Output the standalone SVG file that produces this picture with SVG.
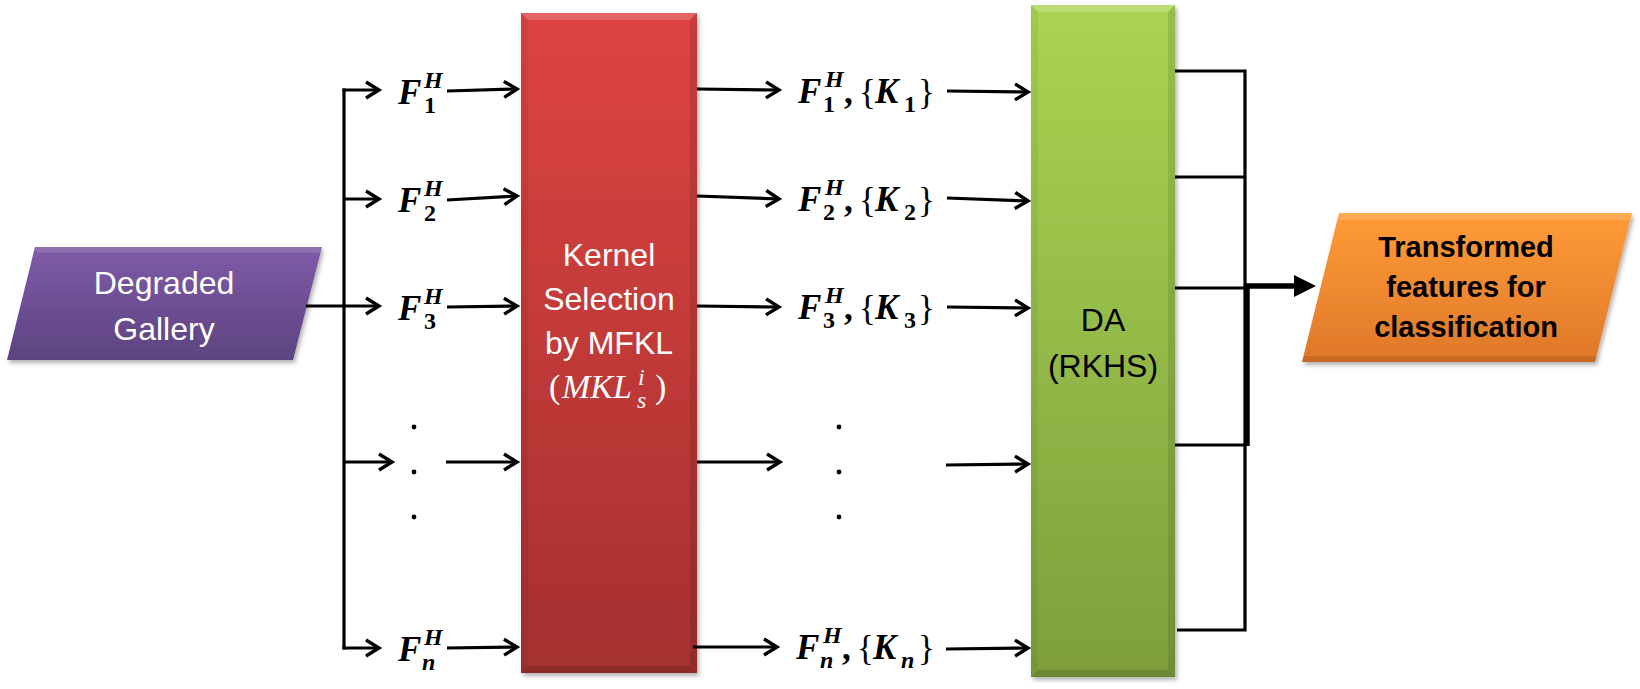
<svg xmlns="http://www.w3.org/2000/svg" width="1640" height="689" viewBox="0 0 1640 689">
<style>
.lbl{font-family:"Liberation Sans",Arial,sans-serif;font-size:32px;text-anchor:middle}
.lblb{font-family:"Liberation Sans",Arial,sans-serif;font-size:29px;font-weight:bold;text-anchor:middle;fill:#000}
.m{font-family:"Liberation Serif","Times New Roman",serif;fill:#000}
.mb{font-weight:bold;font-style:italic;font-size:35px}
.ms{font-weight:bold;font-style:italic;font-size:24px}
.md{font-weight:bold;font-size:24px}
.mr{font-size:35px}
.ln{fill:none;stroke:#000;stroke-width:3.2}
.arr{fill:none;stroke:#000;stroke-width:3.2;marker-end:url(#ah)}
</style>
<defs>
<marker id="ah" markerUnits="userSpaceOnUse" viewBox="-16 -10 20 20" refX="0" refY="0" markerWidth="20" markerHeight="20" orient="auto" overflow="visible">
<path d="M-13,-8 L0,0 L-13,8" fill="none" stroke="#000" stroke-width="3.4" stroke-linejoin="miter"/>
</marker>
<linearGradient id="gPurple" x1="0" y1="0" x2="0" y2="1"><stop offset="0" stop-color="#7E5BA8"/><stop offset="1" stop-color="#5D4380"/></linearGradient>
<linearGradient id="gRed" x1="0" y1="0" x2="0" y2="1"><stop offset="0" stop-color="#DE4442"/><stop offset="1" stop-color="#A5302F"/></linearGradient>
<linearGradient id="gGreen" x1="0" y1="0" x2="0" y2="1"><stop offset="0" stop-color="#AAD452"/><stop offset="1" stop-color="#7E9F3C"/></linearGradient>
<linearGradient id="gOrange" x1="0" y1="0" x2="0" y2="1"><stop offset="0" stop-color="#FF9C37"/><stop offset="1" stop-color="#DF772A"/></linearGradient>
<filter id="sh" x="-10%" y="-10%" width="120%" height="120%">
<feDropShadow dx="2" dy="3" stdDeviation="2" flood-color="#000" flood-opacity="0.3"/>
</filter>
</defs>

<g id="node-degraded">
<polygon points="35,247 322,247 293,360 7,360" fill="url(#gPurple)" filter="url(#sh)"/>
<polygon points="35,247 322,247 320,253 37,253" fill="#fff" opacity="0.12"/>
<text class="lbl" fill="#fff" x="164" y="294">Degraded</text>
<text class="lbl" fill="#fff" x="164" y="340">Gallery</text>
</g>

<g id="node-mfkl">
<rect x="521" y="13" width="176" height="660" fill="url(#gRed)" filter="url(#sh)"/>
<polygon points="521,13 697,13 690,20 528,20" fill="#fff" opacity="0.18"/>
<polygon points="521,13 528,20 528,666 521,673" fill="#000" opacity="0.06"/>
<polygon points="697,13 690,20 690,666 697,673" fill="#000" opacity="0.1"/>
<polygon points="521,673 528,666 690,666 697,673" fill="#000" opacity="0.15"/>
<text class="lbl" fill="#fff" x="609" y="266">Kernel</text>
<text class="lbl" fill="#fff" x="609" y="310">Selection</text>
<text class="lbl" fill="#fff" x="609" y="354">by MFKL</text>
<text class="m" style="fill:#fff"><tspan x="549" y="398" font-size="34">(</tspan><tspan x="562" y="398" font-size="34" font-style="italic">MKL</tspan><tspan x="638" y="385" font-size="24" font-style="italic">i</tspan><tspan x="637" y="408" font-size="24" font-style="italic">s</tspan><tspan x="655" y="398" font-size="34">)</tspan></text>
</g>

<g id="node-da">
<rect x="1031" y="5" width="144" height="672" fill="url(#gGreen)" filter="url(#sh)"/>
<polygon points="1031,5 1175,5 1168,12 1038,12" fill="#fff" opacity="0.2"/>
<polygon points="1031,5 1038,12 1038,670 1031,677" fill="#000" opacity="0.05"/>
<polygon points="1175,5 1168,12 1168,670 1175,677" fill="#000" opacity="0.1"/>
<polygon points="1031,677 1038,670 1168,670 1175,677" fill="#000" opacity="0.15"/>
<text class="lbl" fill="#000" x="1103" y="331">DA</text>
<text class="lbl" fill="#000" x="1103" y="377">(RKHS)</text>
</g>

<g id="node-output">
<polygon points="1339,213 1632,213 1595,362 1302,362" fill="url(#gOrange)" filter="url(#sh)"/>
<polygon points="1339,213 1632,213 1629,220 1337,220" fill="#fff" opacity="0.15"/>
<polygon points="1302,362 1595,362 1597,356 1304,356" fill="#000" opacity="0.1"/>
<text class="lblb" x="1466" y="257">Transformed</text>
<text class="lblb" x="1466" y="297">features for</text>
<text class="lblb" x="1466" y="337">classification</text>
</g>

<g id="label-f1">
<text class="m"><tspan class="mb" x="398" y="104">F</tspan><tspan class="ms" x="424" y="88">H</tspan><tspan class="md" x="424" y="113">1</tspan></text>
</g>
<g id="label-f2">
<text class="m"><tspan class="mb" x="398" y="212">F</tspan><tspan class="ms" x="424" y="196">H</tspan><tspan class="md" x="424" y="221">2</tspan></text>
</g>
<g id="label-f3">
<text class="m"><tspan class="mb" x="398" y="320">F</tspan><tspan class="ms" x="424" y="304">H</tspan><tspan class="md" x="424" y="329">3</tspan></text>
</g>
<g id="label-fn">
<text class="m"><tspan class="mb" x="398" y="661">F</tspan><tspan class="ms" x="424" y="645">H</tspan><tspan class="ms" x="422" y="670">n</tspan></text>
</g>
<g id="dots-left">
<circle cx="414" cy="427" r="2.4"/><circle cx="414" cy="472" r="2.4"/><circle cx="414" cy="517" r="2.4"/>
</g>

<g id="label-fk1">
<text class="m"><tspan class="mb" x="798" y="103">F</tspan><tspan class="ms" x="825" y="87">H</tspan><tspan class="md" x="823" y="112">1</tspan><tspan class="mr" font-weight="bold" x="844" y="103">,</tspan><tspan class="mr" x="859" y="104">{</tspan><tspan class="mb" x="875" y="103">K</tspan><tspan class="md" x="904" y="112">1</tspan><tspan class="mr" x="918" y="104">}</tspan></text>
</g>
<g id="label-fk2">
<text class="m"><tspan class="mb" x="798" y="211">F</tspan><tspan class="ms" x="825" y="195">H</tspan><tspan class="md" x="823" y="220">2</tspan><tspan class="mr" font-weight="bold" x="844" y="211">,</tspan><tspan class="mr" x="859" y="212">{</tspan><tspan class="mb" x="875" y="211">K</tspan><tspan class="md" x="904" y="220">2</tspan><tspan class="mr" x="918" y="212">}</tspan></text>
</g>
<g id="label-fk3">
<text class="m"><tspan class="mb" x="798" y="319">F</tspan><tspan class="ms" x="825" y="303">H</tspan><tspan class="md" x="823" y="328">3</tspan><tspan class="mr" font-weight="bold" x="844" y="319">,</tspan><tspan class="mr" x="859" y="320">{</tspan><tspan class="mb" x="875" y="319">K</tspan><tspan class="md" x="904" y="328">3</tspan><tspan class="mr" x="918" y="320">}</tspan></text>
</g>
<g id="label-fkn">
<text class="m"><tspan class="mb" x="796" y="659">F</tspan><tspan class="ms" x="823" y="643">H</tspan><tspan class="ms" x="820" y="668">n</tspan><tspan class="mr" font-weight="bold" x="842" y="659">,</tspan><tspan class="mr" x="857" y="660">{</tspan><tspan class="mb" x="873" y="659">K</tspan><tspan class="ms" x="901" y="668">n</tspan><tspan class="mr" x="918" y="660">}</tspan></text>
</g>
<g id="dots-right">
<circle cx="839" cy="427" r="2.4"/><circle cx="839" cy="472" r="2.4"/><circle cx="839" cy="517" r="2.4"/>
</g>

<g id="connectors">
<path class="ln" d="M306,306 H344"/>
<path class="ln" d="M344,88.4 V649.6"/>
<path class="arr" d="M342.4,90 H379"/>
<path class="arr" d="M344,199 H379"/>
<path class="arr" d="M344,306 H379"/>
<path class="arr" d="M344,462 H392"/>
<path class="arr" d="M342.4,648 H379"/>
<path class="arr" d="M447,91 L517,89"/>
<path class="arr" d="M447,200 L517,196"/>
<path class="arr" d="M447,307 L517,306"/>
<path class="arr" d="M446,462 L517,462"/>
<path class="arr" d="M447,648 L517,647"/>
<path class="arr" d="M697,89 L779,90"/>
<path class="arr" d="M697,196 L779,199"/>
<path class="arr" d="M697,306 L779,307"/>
<path class="arr" d="M697,462 L780,462"/>
<path class="arr" d="M693,647 L777,647"/>
<path class="arr" d="M947,91 L1028,92"/>
<path class="arr" d="M947,198 L1028,201"/>
<path class="arr" d="M947,307 L1028,308"/>
<path class="arr" d="M946,465 L1028,464"/>
<path class="arr" d="M946,649 L1028,648"/>
<path class="ln" d="M1175,71 H1245 V630 H1177"/>
<path class="ln" d="M1175,177 H1245"/>
<path class="ln" d="M1175,288 H1245"/>
<path class="ln" d="M1175,445 H1245"/>
<path d="M1247,286 V446" fill="none" stroke="#000" stroke-width="5.5"/>
<path d="M1244,286 H1297" fill="none" stroke="#000" stroke-width="5.5"/>
<polygon points="1294,275 1316,286 1294,297"/>
</g>
</svg>
